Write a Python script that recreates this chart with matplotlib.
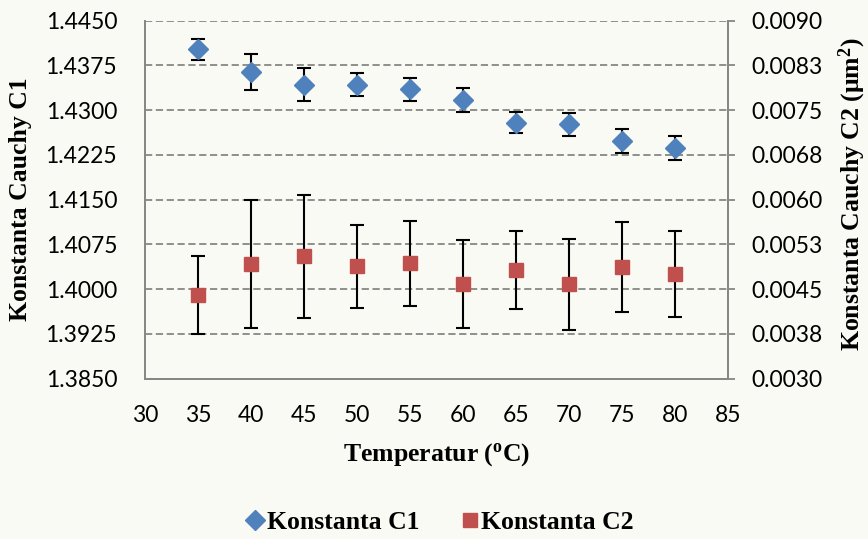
import numpy as np
import matplotlib.pyplot as plt
from matplotlib.lines import Line2D

# data suhu dan konstanta Cauchy
temperatur = [35, 40, 45, 50, 55, 60, 65, 70, 75, 80]
c1 = [1.4402, 1.4364, 1.4343, 1.4343, 1.4335, 1.4317, 1.4279, 1.4276, 1.4248, 1.4236]
c1_err = [0.0018, 0.0030, 0.0028, 0.0020, 0.0019, 0.0020, 0.0018, 0.0020, 0.0020, 0.0020]
c2 = [0.00440, 0.00492, 0.00505, 0.00488, 0.00493, 0.00458, 0.00482, 0.00458, 0.00487, 0.00476]
c2_err = [0.00065, 0.00108, 0.00103, 0.00070, 0.00071, 0.00074, 0.00065, 0.00076, 0.00075, 0.00072]

x_ticks = [30, 35, 40, 45, 50, 55, 60, 65, 70, 75, 80, 85]
c1_ticks = ["1.3850", "1.3925", "1.4000", "1.4075", "1.4150", "1.4225", "1.4300", "1.4375", "1.4450"]
c2_ticks = ["0.0030", "0.0038", "0.0045", "0.0053", "0.0060", "0.0068", "0.0075", "0.0083", "0.0090"]

BIRU = "#4F81BD"
MERAH = "#C0504D"
ABU = "#868686"
serif = "Liberation Serif"
sans = "Lato"

fig = plt.figure(figsize=(8.68, 5.39), dpi=100, facecolor="#FAFAF4")
ax = fig.add_axes([0.167, 0.2976, 0.672, 0.664])
ax.set_facecolor("none")
ax2 = ax.twinx()

ax.errorbar(temperatur, c1, yerr=c1_err, fmt="D", color=BIRU, ms=10.5, mec=BIRU,
            ecolor="black", elinewidth=1.5, capsize=5, capthick=1.5, zorder=5)
ax2.errorbar(temperatur, c2, yerr=c2_err, fmt="s", color=MERAH, ms=10.5, mec=MERAH,
             ecolor="black", elinewidth=1.5, capsize=5, capthick=1.5, zorder=5)

ax.set_xlim(30, 85)
ax.set_ylim(1.3850, 1.4450)
ax2.set_ylim(0.0030, 0.0090)
ax.set_xticks(x_ticks)
ax.set_yticks(np.linspace(1.3850, 1.4450, len(c1_ticks)))
ax.set_yticklabels(c1_ticks)
ax2.set_yticks(np.linspace(0.0030, 0.0090, len(c2_ticks)))
ax2.set_yticklabels(c2_ticks)

ax.yaxis.grid(True, linestyle=(0, (4, 2)), color=ABU, linewidth=1.3)
ax.set_axisbelow(True)

for a in (ax, ax2):
    a.spines["top"].set_visible(False)
    for s in ("left", "right", "bottom"):
        a.spines[s].set_color(ABU)
        a.spines[s].set_linewidth(1.3)

ax.tick_params(axis="y", length=0, pad=20, labelsize=16.5, labelcolor="black")
ax.tick_params(axis="x", length=0, pad=19, labelsize=16.5)
ax2.tick_params(axis="y", length=5, width=1.3, color=ABU, direction="out", pad=12, labelsize=16.5)
for lbl in ax.get_xticklabels() + ax.get_yticklabels() + ax2.get_yticklabels():
    lbl.set_fontfamily(sans)

ax.set_xlabel("Temperatur ($\\mathregular{^o}$C)", fontfamily=serif, fontweight="bold", fontsize=18.5)
ax.xaxis.set_label_coords(0.5, -0.175)
ax.set_ylabel("Konstanta Cauchy C1", fontfamily=serif, fontweight="bold", fontsize=18.5)
ax.yaxis.set_label_coords(-0.194, 0.5)
ax2.set_ylabel("Konstanta Cauchy C2 (μm$\\mathregular{^2}$)", fontfamily=serif, fontweight="bold",
               fontsize=18.5, rotation=90)
ax2.yaxis.set_label_coords(1.186, 0.515)

handles = [
    Line2D([], [], marker="D", color=BIRU, linestyle="none", ms=10),
    Line2D([], [], marker="s", color=MERAH, linestyle="none", ms=10),
]
fig.legend(handles, ["Konstanta C1", "Konstanta C2"], loc="center", ncol=2,
           bbox_to_anchor=(0.507, 0.03), frameon=False, handlelength=0.7, handletextpad=0.1,
           columnspacing=1.6, prop={"family": serif, "weight": "bold", "size": 18.5})

fig.savefig("out.png", dpi=100, facecolor=fig.get_facecolor())
